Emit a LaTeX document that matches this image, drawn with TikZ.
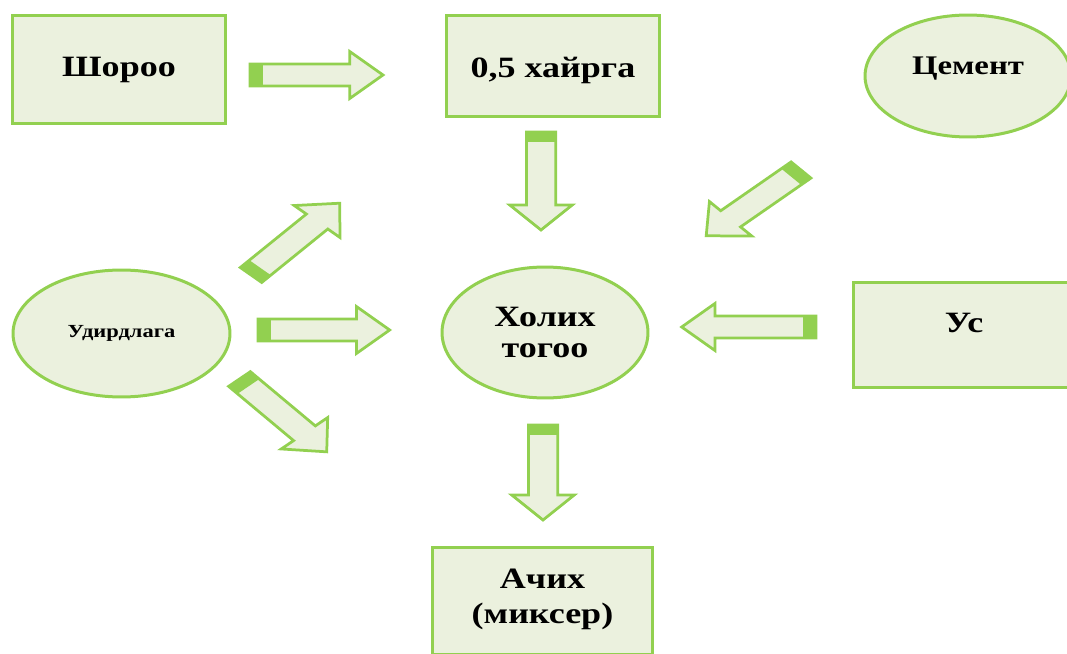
\documentclass[tikz,border=0pt]{standalone}
\usepackage{fontspec}
\setmainfont{Liberation Serif}[FakeStretch=1.22]
\usetikzlibrary{shapes.geometric}
\definecolor{leafgreen}{HTML}{92D050}
\definecolor{paleolive}{HTML}{EBF1DE}

\begin{document}
\begin{tikzpicture}[
  x=0.02cm, y=0.02cm,
  every node/.style={font=\bfseries\fontsize{16.8}{18}\selectfont},
  box/.style={draw=leafgreen, fill=paleolive, line width=0.06cm, rectangle, minimum width=4.28cm},
  oval/.style={draw=leafgreen, fill=paleolive, line width=0.06cm, ellipse},
  arrowdir/.store in=\arrowdir, arrowdir=0,
  arrowlen/.store in=\arrowlen, arrowlen=98,
  blockarrow/.pic={
    \begin{scope}[xscale=1.33, rotate=\arrowdir]
      \filldraw[draw=leafgreen, fill=paleolive, line width=0.055cm, line join=miter]
        (0,-11) -- (\arrowlen-25,-11) -- (\arrowlen-25,-23.5) -- (\arrowlen,0)
        -- (\arrowlen-25,23.5) -- (\arrowlen-25,11) -- (0,11) -- cycle;
      \fill[leafgreen] (0,-11) rectangle (10,11);
    \end{scope}
  }
]
\useasboundingbox (0,0) rectangle (1067,653);

% blocks
\node[box, minimum height=2.18cm] (shoroo) at (119,583.5) {Шороо};
\node[box, minimum height=2.04cm, text height=0.57cm] (hairga) at (553,587) {0,5 хайрга};
\node[oval, minimum width=4.12cm, minimum height=2.44cm, text depth=0.4cm,
  font=\bfseries\fontsize{15.3}{17}\selectfont] (cement) at (968,577) {Цемент};
\node[oval, minimum width=4.34cm, minimum height=2.54cm,
  font=\bfseries\fontsize{10.5}{12}\selectfont] (udirdlaga) at (121.5,319.5) {Удирдлага};
\node[oval, minimum width=4.12cm, minimum height=2.62cm, align=center] (holih) at (545,320.5) {Холих\\тогоо};
\node[box, minimum width=4.44cm, minimum height=2.12cm, text depth=0.48cm] (us) at (964,318) {Ус};
\node[box, minimum width=4.42cm, minimum height=2.16cm, align=center, text depth=0.2cm,
  font=\bfseries\fontsize{16.8}{20}\selectfont] (achih) at (542.5,52) {Ачих\\(миксер)};

% arrow tails
\coordinate (shoroo-out) at (250,578);
\coordinate (hairga-out) at (541,521);
\coordinate (cement-out) at (801,483);
\coordinate (udirdlaga-up) at (251,378);
\coordinate (udirdlaga-mid) at (258,323);
\coordinate (udirdlaga-down) at (239.5,274);
\coordinate (us-out) at (816,326);
\coordinate (holih-out) at (543,228);

% block arrows
\pic[arrowdir=0, arrowlen=100] at (shoroo-out) {blockarrow};
\pic[arrowdir=-90, arrowlen=98] at (hairga-out) {blockarrow};
\pic[arrowdir=222.7, arrowlen=97] at (cement-out) {blockarrow};
\pic[arrowdir=47.1, arrowlen=98] at (udirdlaga-up) {blockarrow};
\pic[arrowdir=0, arrowlen=99] at (udirdlaga-mid) {blockarrow};
\pic[arrowdir=-48, arrowlen=98] at (udirdlaga-down) {blockarrow};
\pic[arrowdir=180, arrowlen=101] at (us-out) {blockarrow};
\pic[arrowdir=-90, arrowlen=95] at (holih-out) {blockarrow};
\end{tikzpicture}
\end{document}
